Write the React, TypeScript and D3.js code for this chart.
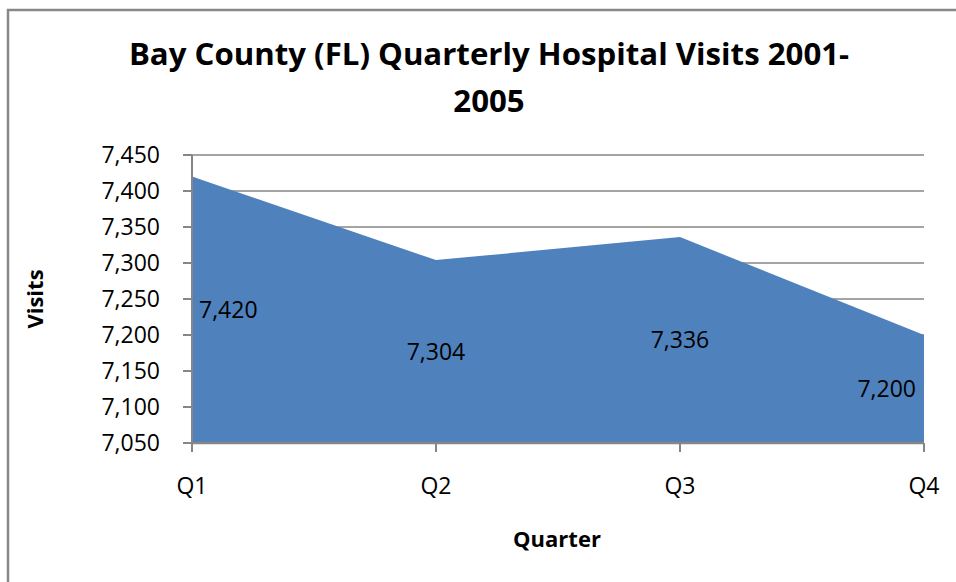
import React from "react";
import * as d3 from "d3";

const quarters = ["Q1", "Q2", "Q3", "Q4"];
const visits = [7420, 7304, 7336, 7200];
const yTicks = [7050, 7100, 7150, 7200, 7250, 7300, 7350, 7400, 7450];

const W = 956;
const H = 582;
const FONT = "'Open Sans', 'Noto Sans', sans-serif";

export default function App() {
  const x = d3.scalePoint<string>().domain(quarters).range([192, 924]);
  const y = d3.scaleLinear().domain([7050, 7450]).range([443, 155]);
  const fmt = d3.format(",");

  const rows = quarters.map((q, i) => ({ q, v: visits[i] }));
  const area = d3
    .area<{ q: string; v: number }>()
    .x((d) => x(d.q) as number)
    .y0(y(7050))
    .y1((d) => y(d.v));

  const [x0, x1] = x.range();
  const axisColor = "#868686";

  return (
    <svg
      width={W}
      height={H}
      style={{ position: "absolute", left: 0, top: 0, background: "#fff" }}
    >
      {/* chart frame */}
      <rect x={8} y={10} width={W + 20} height={H + 20} fill="#fff" stroke="#888" strokeWidth={2.5} />

      {/* title */}
      <text x={489} y={65} textAnchor="middle" fontFamily={FONT} fontWeight={700} fontSize={31.2} fill="#000">
        Bay County (FL) Quarterly Hospital Visits 2001-
      </text>
      <text x={489} y={112} textAnchor="middle" fontFamily={FONT} fontWeight={700} fontSize={31.2} fill="#000">
        2005
      </text>

      {/* horizontal gridlines */}
      {yTicks.map((t) => (
        <line key={"g" + t} x1={x0} x2={x1} y1={y(t)} y2={y(t)} stroke={axisColor} strokeWidth={1.3} />
      ))}

      {/* area */}
      <path d={area(rows) ?? ""} fill="#4F81BD" />

      {/* y axis */}
      <line x1={x0} x2={x0} y1={y(7450)} y2={y(7050)} stroke={axisColor} strokeWidth={2} />
      {yTicks.map((t) => (
        <g key={"y" + t}>
          <line x1={x0 - 9} x2={x0} y1={y(t)} y2={y(t)} stroke={axisColor} strokeWidth={2} />
          <text x={160} y={y(t)} dy="0.36em" textAnchor="end" fontFamily={FONT} fontSize={23} fill="#000">
            {fmt(t)}
          </text>
        </g>
      ))}

      {/* x axis */}
      <line x1={x0} x2={x1} y1={y(7050)} y2={y(7050)} stroke={axisColor} strokeWidth={2.5} />
      {quarters.map((q) => (
        <g key={"x" + q}>
          <line x1={x(q)} x2={x(q)} y1={y(7050)} y2={y(7050) + 9} stroke={axisColor} strokeWidth={2} />
          <text x={x(q)} y={494} textAnchor="middle" fontFamily={FONT} fontSize={23} fill="#000">
            {q}
          </text>
        </g>
      ))}

      {/* data labels, centred vertically in the filled band */}
      {rows.map((d, i) => {
        const px = x(d.q) as number;
        const anchor = i === 0 ? "start" : i === rows.length - 1 ? "end" : "middle";
        const lx = i === 0 ? px + 7 : i === rows.length - 1 ? px - 8 : px;
        return (
          <text
            key={"l" + d.q}
            x={lx}
            y={y((d.v + 7050) / 2)}
            dy="0.36em"
            textAnchor={anchor}
            fontFamily={FONT}
            fontSize={23}
            fill="#000"
          >
            {fmt(d.v)}
          </text>
        );
      })}

      {/* axis titles */}
      <text x={557} y={547} textAnchor="middle" fontFamily={FONT} fontWeight={700} fontSize={22} fill="#000">
        Quarter
      </text>
      <text
        transform={`translate(43, ${(y(7050) + y(7450)) / 2}) rotate(-90)`}
        textAnchor="middle"
        fontFamily={FONT}
        fontWeight={700}
        fontSize={22}
        fill="#000"
      >
        Visits
      </text>
    </svg>
  );
}
